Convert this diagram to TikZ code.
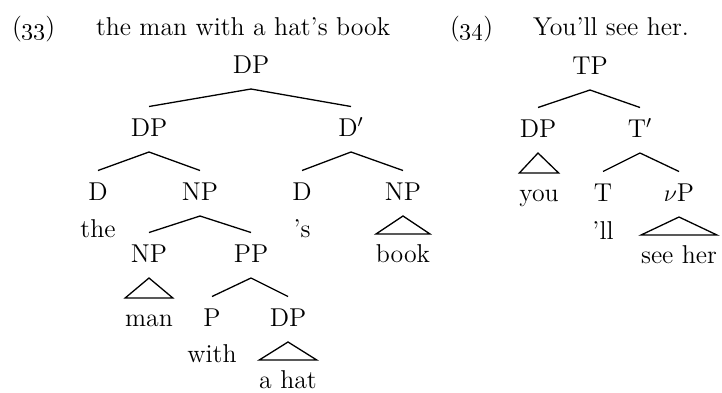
\documentclass[tikz,border=0pt]{standalone}
\begin{document}
\begin{tikzpicture}[x=0.5pt,y=-0.5pt,
  lab/.style={anchor=base, inner sep=0pt, outer sep=0pt, font=\fontsize{12.9}{15}\selectfont},
  head/.style={lab, anchor=base west},
  branch/.style={line width=0.65pt, line join=miter}]
\useasboundingbox (0,0) rectangle (722,392);

% binary branch: from below the mother node to above the daughter
\newcommand\treebranch[2]{\draw[branch] ([yshift=-8pt]#1.base) -- ([yshift=14.75pt]#2.base);}
% roof over an unanalysed constituent
\newcommand\treeroof[2]{\draw[branch] ([yshift=-8pt]#1.base) -- ([yshift=14pt]#2.base west) -- ([yshift=14pt]#2.base east) -- cycle;}

% example headings
\node[head] (n33) at (12,35) {(\oldstylenums{33})};
\node[head] (h33) at (96,35) {the man with a hat's book};
\node[head] (n34) at (450,35) {(\oldstylenums{34})};
\node[head] (h34) at (533,35) {You'll see her.};

% (33) the man with a hat's book
\node[lab] (dp0)   at (251,73)  {DP};
\node[lab] (dpposs) at (149,136) {DP};
\node[lab] (dbar)  at (351,136) {D$'$};
\node[lab] (d1)    at (98,200)  {D};
\node[lab] (np1)   at (200,200) {NP};
\node[lab] (d2)    at (302,200) {D};
\node[lab] (np2)   at (403,200) {NP};
\node[lab] (the)   at (98,237)  {the};
\node[lab] (poss)  at (302,237) {'s};
\node[lab] (np3)   at (149,262) {NP};
\node[lab] (pp)    at (251,262) {PP};
\node[lab] (book)  at (403,262) {book};
\node[lab] (man)   at (149,326) {man};
\node[lab] (p)     at (212,326) {P};
\node[lab] (dp3)   at (288,326) {DP};
\node[lab] (with)  at (212,362) {with};
\node[lab] (ahat)  at (288,388) {a hat};

\treebranch{dp0}{dpposs}
\treebranch{dp0}{dbar}
\treebranch{dpposs}{d1}
\treebranch{dpposs}{np1}
\treebranch{dbar}{d2}
\treebranch{dbar}{np2}
\treebranch{np1}{np3}
\treebranch{np1}{pp}
\treebranch{pp}{p}
\treebranch{pp}{dp3}
\treeroof{np2}{book}
\treeroof{np3}{man}
\treeroof{dp3}{ahat}

% (34) You'll see her.
\node[lab] (tp)    at (590,74)  {TP};
\node[lab] (dpsub) at (538,137) {DP};
\node[lab] (tbar)  at (640,137) {T$'$};
\node[lab] (you)   at (539,201) {you};
\node[lab] (t)     at (603,201) {T};
\node[lab] (vp)    at (679,201) {$\nu$P};
\node[lab] (ll)    at (603,239) {'ll};
\node[lab] (seeher) at (679,263) {see her};

\treebranch{tp}{dpsub}
\treebranch{tp}{tbar}
\treebranch{tbar}{t}
\treebranch{tbar}{vp}
\treeroof{dpsub}{you}
\treeroof{vp}{seeher}
\end{tikzpicture}
\end{document}
